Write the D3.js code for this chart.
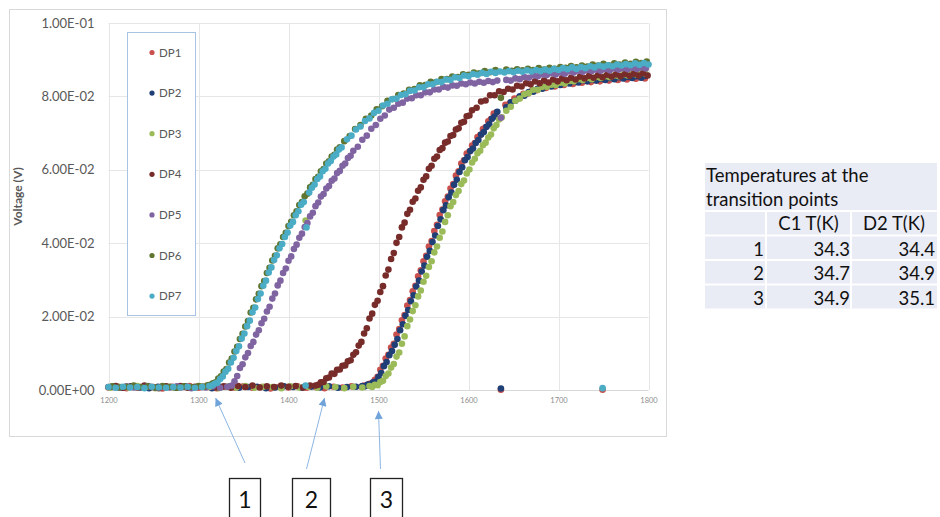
<!DOCTYPE html>
<html>
<head>
<meta charset="utf-8">
<script src="https://cdn.jsdelivr.net/npm/d3@7"></script>
<style>
  body { margin: 0; background: #fff; }
  svg { display: block; }
</style>
</head>
<body>
<script>
// ---- Sweep data: temperature index (x) vs. detector voltage in V ----
const dp1 = [
[1200,.0007],[1210,.0009],[1220,.0005],[1230,.0010],[1240,.0006],[1250,.0008],[1260,.0004],[1270,.0009],[1280,.0007],[1290,.0011],[1300,.0006],[1310,.0008],[1320,.0005],[1330,.0009],[1340,.0007],[1350,.0010],[1360,.0006],[1370,.0008],[1380,.0004],[1390,.0009],[1400,.0007],[1410,.0010],[1420,.0006],[1430,.0008],[1440,.0005],[1450,.0009],[1460,.0007],[1470,.0010],
[1481,.0009],[1484,.0012],[1487,.0012],[1490,.0017],[1493,.0019],[1496,.0028],[1499,.0036],[1502,.0055],[1505,.0066],[1508,.0086],[1511,.0096],[1514,.0116],[1517,.0126],[1520,.0151],[1523,.0166],[1526,.0190],[1529,.0204],[1532,.0230],[1535,.0245],[1538,.0269],[1541,.0284],[1544,.0310],[1547,.0326],[1550,.0351],[1553,.0366],[1556,.0391],[1559,.0406],[1562,.0433],[1565,.0450],[1568,.0477],[1571,.0492],[1574,.0514],[1577,.0527],[1580,.0549],[1583,.0561],[1586,.0584],[1589,.0596],[1592,.0617],[1595,.0626],[1598,.0644],[1601,.0650],[1604,.0666],[1607,.0673],[1610,.0689],[1613,.0695],[1616,.0711],[1619,.0716],[1622,.0732],[1625,.0738],[1628,.0753],[1631,.0756],
[1636,.0001],[1641,.0777],[1646,.0782],[1651,.0794],[1656,.0797],[1661,.0807],[1666,.0808],[1671,.0817],[1676,.0817],[1681,.0824],[1686,.0823],[1691,.0829],[1696,.0827],[1701,.0833],[1706,.0831],[1711,.0837],[1716,.0834],[1721,.0840],[1726,.0837],[1731,.0842],[1736,.0839],[1741,.0844],[1746,.0841],[1749,.0001],[1751,.0846],[1756,.0843],[1761,.0848],[1766,.0845],[1771,.0850],[1776,.0846],[1781,.0851],[1786,.0848],[1791,.0852],[1796,.0849]
];
const dp2 = [
[1205,.0008],[1215,.0006],[1225,.0010],[1235,.0007],[1245,.0005],[1255,.0009],[1265,.0008],[1275,.0006],[1285,.0010],[1295,.0007],[1305,.0009],[1315,.0005],[1325,.0008],[1335,.0010],[1345,.0006],[1355,.0008],[1365,.0009],[1375,.0005],[1385,.0007],[1395,.0010],[1405,.0008],[1415,.0006],[1425,.0009],[1435,.0007],[1445,.0010],[1455,.0006],[1465,.0008],[1475,.0009],
[1482,.0011],[1485,.0010],[1488,.0015],[1491,.0015],[1494,.0021],[1497,.0023],[1500,.0035],[1503,.0046],[1506,.0065],[1509,.0076],[1512,.0095],[1515,.0106],[1518,.0123],[1521,.0139],[1524,.0163],[1527,.0179],[1530,.0202],[1533,.0218],[1536,.0242],[1539,.0258],[1542,.0282],[1545,.0298],[1548,.0323],[1551,.0339],[1554,.0363],[1557,.0379],[1560,.0403],[1563,.0421],[1566,.0447],[1569,.0465],[1572,.0490],[1575,.0503],[1578,.0525],[1581,.0538],[1584,.0559],[1587,.0573],[1590,.0594],[1593,.0607],[1596,.0626],[1599,.0635],[1602,.0651],[1605,.0658],[1608,.0673],[1611,.0681],[1614,.0696],[1617,.0703],[1620,.0717],[1623,.0724],[1626,.0739],[1629,.0745],[1632,.0758],
[1636,.0004],[1642,.0770],[1647,.0784],[1652,.0788],[1657,.0800],[1662,.0802],[1667,.0812],[1672,.0813],[1677,.0821],[1682,.0821],[1687,.0828],[1692,.0827],[1697,.0833],[1702,.0831],[1707,.0837],[1712,.0835],[1717,.0841],[1722,.0838],[1727,.0844],[1732,.0841],[1737,.0846],[1742,.0843],[1747,.0848],[1752,.0845],[1757,.0850],[1762,.0847],[1767,.0852],[1772,.0849],[1777,.0853],[1782,.0850],[1787,.0855],[1792,.0851],[1797,.0856]
];
const dp3 = [
[1202,.0006],[1212,.0009],[1222,.0007],[1232,.0011],[1242,.0008],[1252,.0005],[1262,.0010],[1272,.0007],[1282,.0009],[1292,.0006],[1302,.0010],[1312,.0008],[1322,.0005],[1332,.0009],[1342,.0007],[1352,.0011],[1362,.0006],[1372,.0009],[1382,.0008],[1392,.0005],[1402,.0010],[1412,.0007],[1419,.0462],[1422,.0009],[1432,.0006],[1442,.0010],[1452,.0008],[1462,.0005],[1472,.0009],[1482,.0007],
[1490,.0011],[1493,.0008],[1496,.0014],[1499,.0013],[1502,.0022],[1505,.0025],[1508,.0038],[1511,.0045],[1514,.0061],[1517,.0071],[1520,.0091],[1523,.0102],[1526,.0126],[1529,.0146],[1532,.0174],[1535,.0192],[1538,.0215],[1541,.0231],[1544,.0255],[1547,.0271],[1550,.0295],[1553,.0311],[1556,.0335],[1559,.0351],[1562,.0375],[1565,.0391],[1568,.0415],[1571,.0432],[1574,.0458],[1577,.0476],[1580,.0501],[1583,.0512],[1586,.0531],[1589,.0542],[1592,.0561],[1595,.0571],[1598,.0590],[1601,.0601],[1604,.0620],[1607,.0630],[1610,.0645],[1613,.0652],[1616,.0667],[1619,.0674],[1622,.0688],[1625,.0696],[1628,.0713],[1631,.0722],[1634,.0737],[1637,.0743],
[1642,.0761],[1647,.0772],[1652,.0788],[1657,.0794],[1662,.0806],[1667,.0809],[1672,.0818],[1677,.0818],[1682,.0826],[1687,.0826],[1692,.0832],[1697,.0831],[1702,.0837],[1707,.0835],[1712,.0842],[1717,.0841],[1722,.0847],[1727,.0845],[1732,.0850],[1737,.0847],[1742,.0853],[1747,.0850],[1752,.0855],[1757,.0852],[1762,.0857],[1767,.0855],[1772,.0860],[1777,.0857],[1782,.0862],[1787,.0859],[1792,.0864],[1797,.0861]
];
const dp4 = [
[1200,.0008],[1208,.0011],[1216,.0006],[1224,.0009],[1232,.0007],[1240,.0012],[1248,.0008],[1256,.0005],[1264,.0010],[1272,.0008],[1280,.0011],[1288,.0006],[1296,.0009],[1304,.0008],[1312,.0012],[1320,.0007],[1328,.0010],[1336,.0006],[1344,.0011],[1352,.0008],[1360,.0012],[1368,.0007],[1376,.0010],[1384,.0008],[1392,.0012],[1400,.0009],[1408,.0011],[1416,.0007],[1424,.0012],
[1430,.0012],[1433,.0014],[1436,.0021],[1439,.0022],[1442,.0032],[1445,.0034],[1448,.0045],[1451,.0044],[1454,.0055],[1457,.0056],[1460,.0066],[1463,.0067],[1466,.0078],[1469,.0081],[1472,.0096],[1475,.0103],[1478,.0121],[1481,.0131],[1484,.0154],[1487,.0168],[1490,.0195],[1493,.0208],[1496,.0232],[1499,.0243],[1502,.0267],[1505,.0283],[1508,.0312],[1511,.0328],[1514,.0357],[1517,.0373],[1520,.0401],[1523,.0417],[1526,.0443],[1529,.0456],[1532,.0480],[1535,.0491],[1538,.0513],[1541,.0522],[1544,.0543],[1547,.0552],[1550,.0573],[1553,.0582],[1556,.0603],[1559,.0611],[1562,.0630],[1565,.0636],[1568,.0654],[1571,.0659],[1574,.0674],[1577,.0677],[1580,.0692],[1583,.0695],[1586,.0710],[1589,.0713],[1592,.0728],[1595,.0731],[1598,.0746],[1601,.0748],[1604,.0762],
[1609,.0769],[1614,.0786],[1619,.0789],[1624,.0803],[1629,.0803],[1634,.0814],[1639,.0812],[1644,.0821],[1649,.0819],[1654,.0829],[1659,.0827],[1664,.0836],[1669,.0833],[1674,.0841],[1679,.0836],[1684,.0843],[1689,.0838],[1694,.0846],[1699,.0841],[1704,.0849],[1709,.0844],[1714,.0851],[1719,.0846],[1724,.0854],[1729,.0849],[1734,.0856],[1739,.0851],[1744,.0858],[1749,.0852],[1754,.0859],[1759,.0854],[1764,.0860],[1769,.0855],[1774,.0861],[1779,.0856],[1784,.0862],[1789,.0857],[1794,.0863],[1799,.0857]
];
const dp5 = [
[1204,.0009],[1212,.0006],[1220,.0010],[1228,.0007],[1236,.0008],[1244,.0011],[1252,.0006],[1260,.0009],[1268,.0007],[1276,.0010],[1284,.0008],[1292,.0005],[1300,.0009],[1308,.0007],[1316,.0010],[1324,.0006],[1332,.0009],
[1337,.0012],[1340,.0024],[1343,.0038],[1346,.0060],[1349,.0070],[1352,.0089],[1355,.0101],[1358,.0120],[1361,.0131],[1364,.0151],[1367,.0163],[1370,.0182],[1373,.0194],[1376,.0214],[1379,.0227],[1382,.0249],[1385,.0263],[1388,.0285],[1391,.0298],[1394,.0319],[1397,.0331],[1400,.0352],[1403,.0364],[1406,.0384],[1409,.0396],[1412,.0415],[1415,.0426],[1418,.0444],[1421,.0455],[1424,.0473],[1427,.0483],[1430,.0501],[1433,.0511],[1436,.0527],[1439,.0534],[1442,.0549],[1445,.0556],[1448,.0570],[1451,.0576],[1454,.0591],[1457,.0597],[1460,.0611],[1463,.0617],[1466,.0632],[1469,.0638],[1472,.0652],
[1477,.0663],[1482,.0682],[1487,.0693],[1492,.0712],[1497,.0722],[1502,.0739],[1507,.0748],[1512,.0764],[1517,.0769],[1522,.0780],[1527,.0783],[1532,.0794],[1537,.0795],[1542,.0803],[1547,.0803],[1552,.0811],[1557,.0811],[1562,.0819],[1567,.0819],[1572,.0826],[1577,.0824],[1582,.0830],[1587,.0829],[1592,.0835],[1597,.0833],[1602,.0838],[1607,.0835],[1612,.0840],[1617,.0837],[1622,.0842],[1627,.0839],[1632,.0843],[1636,.0742],[1642,.0845],[1647,.0843],[1652,.0849],[1657,.0847],[1662,.0853],[1667,.0851],[1672,.0857],[1677,.0855],[1682,.0860],[1687,.0858],[1692,.0863],[1697,.0860],[1702,.0865],[1707,.0862],[1712,.0868],[1717,.0865],[1722,.0870],[1727,.0867],[1732,.0872],[1737,.0869],[1742,.0873],[1747,.0870],[1752,.0875],[1757,.0871],[1762,.0876],[1767,.0873],[1772,.0877],[1777,.0874],[1782,.0878],[1787,.0875],[1792,.0879],[1797,.0876]
];
const dp6 = [
[1204,.0010],[1212,.0007],[1220,.0009],[1228,.0012],[1236,.0008],[1244,.0010],[1252,.0007],[1260,.0011],[1268,.0009],[1276,.0006],[1284,.0010],[1292,.0008],[1300,.0011],[1306,.0009],
[1310,.0013],[1313,.0014],[1316,.0018],[1319,.0021],[1322,.0031],[1325,.0037],[1328,.0050],[1331,.0057],[1334,.0075],[1337,.0086],[1340,.0105],[1343,.0118],[1346,.0139],[1349,.0153],[1352,.0173],[1355,.0188],[1358,.0211],[1361,.0224],[1364,.0247],[1367,.0262],[1370,.0283],[1373,.0297],[1376,.0319],[1379,.0333],[1382,.0353],[1385,.0366],[1388,.0386],[1391,.0397],[1394,.0417],[1397,.0428],[1400,.0447],[1403,.0458],[1406,.0476],[1409,.0487],[1412,.0504],[1415,.0512],[1418,.0528],[1421,.0535],[1424,.0552],[1427,.0559],[1430,.0575],[1433,.0581],[1436,.0596],[1439,.0602],[1442,.0617],[1445,.0623],[1448,.0636],[1451,.0641],[1454,.0655],[1457,.0661],
[1462,.0678],[1468,.0692],[1474,.0711],[1480,.0722],[1486,.0739],[1492,.0748],[1498,.0765],[1504,.0773],[1510,.0788],[1516,.0793],[1522,.0804],[1528,.0808],[1534,.0818],[1540,.0820],[1546,.0830],[1552,.0831],[1558,.0840],[1564,.0839],[1570,.0847],[1576,.0847],[1582,.0854],[1588,.0853],[1594,.0860],[1600,.0859],[1606,.0865],[1612,.0863],[1618,.0869],[1624,.0866],[1630,.0872],[1636,.0796],[1642,.0873],[1648,.0870],[1654,.0874],[1660,.0871],[1666,.0875],[1672,.0872],[1678,.0877],[1684,.0873],[1690,.0878],[1696,.0875],[1702,.0880],[1708,.0878],[1714,.0883],[1720,.0879],[1726,.0884],[1732,.0881],[1738,.0887],[1744,.0884],[1750,.0889],[1756,.0885],[1762,.0890],[1768,.0887],[1774,.0892],[1780,.0889],[1786,.0894],[1792,.0891],[1798,.0895]
];
const dp7 = [
[1200,.0008],[1208,.0006],[1216,.0009],[1224,.0007],[1232,.0008],[1240,.0005],[1248,.0009],[1256,.0007],[1264,.0006],[1272,.0008],[1280,.0007],[1288,.0009],[1296,.0006],[1304,.0008],
[1312,.0011],[1315,.0012],[1318,.0017],[1321,.0020],[1324,.0030],[1327,.0037],[1330,.0050],[1333,.0058],[1336,.0075],[1339,.0088],[1342,.0106],[1345,.0119],[1348,.0140],[1351,.0154],[1354,.0174],[1357,.0189],[1360,.0212],[1363,.0225],[1366,.0248],[1369,.0263],[1372,.0284],[1375,.0298],[1378,.0320],[1381,.0334],[1384,.0354],[1387,.0367],[1390,.0386],[1393,.0398],[1396,.0417],[1399,.0429],[1402,.0448],[1405,.0458],[1408,.0476],[1411,.0487],[1414,.0505],[1417,.0512],[1419,.0012],[1420,.0443],[1423,.0538],[1426,.0551],[1429,.0560],[1432,.0575],[1435,.0582],[1438,.0596],[1441,.0603],[1444,.0617],[1447,.0624],[1450,.0636],[1453,.0642],[1456,.0655],[1459,.0661],
[1465,.0683],[1470,.0693],[1475,.0710],[1480,.0718],[1485,.0733],[1490,.0740],[1495,.0755],[1500,.0761],[1505,.0775],[1510,.0780],[1515,.0792],[1520,.0794],[1525,.0804],[1530,.0806],[1535,.0815],[1540,.0816],[1545,.0825],[1550,.0825],[1555,.0833],[1560,.0833],[1565,.0840],[1570,.0839],[1575,.0846],[1580,.0845],[1585,.0852],[1590,.0850],[1595,.0857],[1600,.0855],[1605,.0861],[1610,.0859],[1615,.0864],[1620,.0861],[1625,.0867],[1630,.0864],[1635,.0868],[1640,.0865],[1645,.0869],[1650,.0866],[1655,.0870],[1660,.0867],[1665,.0871],[1670,.0868],[1675,.0872],[1680,.0869],[1685,.0873],[1690,.0870],[1695,.0875],[1700,.0872],[1705,.0877],[1710,.0874],[1715,.0879],[1720,.0875],[1725,.0880],[1730,.0877],[1735,.0882],[1740,.0879],[1745,.0884],[1749,.0005],[1750,.0881],[1755,.0885],[1760,.0882],[1765,.0887],[1770,.0884],[1775,.0888],[1780,.0885],[1785,.0890],[1790,.0886],[1795,.0891],[1800,.0887]
];

const seriesNames  = ['DP1','DP2','DP3','DP4','DP5','DP6','DP7'];
const seriesColors = ['#C9504C','#1F3F76','#9BBB59','#772C2A','#8064A2','#5F7530','#4BACC6'];
const seriesData   = [dp1, dp2, dp3, dp4, dp5, dp6, dp7];

const xTicks = [1200,1300,1400,1500,1600,1700,1800];
const xTickLabels = ['1200','1300','1400','1500','1600','1700','1800'];
const yTicks = [0,0.02,0.04,0.06,0.08,0.1];
const yTickLabels = ['0.00E+00','2.00E-02','4.00E-02','6.00E-02','8.00E-02','1.00E-01'];
const yTitle = 'Voltage (V)';

// transition markers on the temperature axis
const markerLabels = ['1','2','3'];
const markerX = [1319, 1440, 1500];

// summary table
const tableTitle = ['Temperatures at the', 'transition points'];
const tableHeader = ['', 'C1 T(K)', 'D2 T(K)'];
const pointIds = ['1','2','3'];
const c1Temps = [34.3, 34.7, 34.9];
const d2Temps = [34.4, 34.9, 35.1];

// ---- drawing ----
const W = 940, H = 517;
const FONT = "Lato, 'Open Sans', sans-serif";
const svg = d3.select('body').append('svg').attr('width', W).attr('height', H);
svg.append('rect').attr('width', W).attr('height', H).attr('fill', '#fff');

// chart area frame
svg.append('rect').attr('x', 9.5).attr('y', 9.5).attr('width', 657).attr('height', 427)
  .attr('fill', '#fff').attr('stroke', '#d9d9d9');

const x = d3.scaleLinear().domain([1200, 1800]).range([108.5, 648.5]);
const y = d3.scaleLinear().domain([0, 0.1]).range([390, 23]);

// gridlines
const grid = svg.append('g').attr('stroke', '#e6e6e6').attr('stroke-width', 1);
grid.selectAll('line.gv').data(xTicks).join('line').attr('class', 'gv')
  .attr('x1', d => Math.round(x(d)) + 0.5).attr('x2', d => Math.round(x(d)) + 0.5)
  .attr('y1', y(0.1)).attr('y2', y(0));
grid.selectAll('line.gh').data(yTicks.filter(d => d > 0)).join('line').attr('class', 'gh')
  .attr('x1', x(1200)).attr('x2', x(1800))
  .attr('y1', d => Math.round(y(d)) + 0.5).attr('y2', d => Math.round(y(d)) + 0.5);
svg.append('line').attr('x1', x(1200)).attr('x2', x(1800))
  .attr('y1', Math.round(y(0)) + 0.5).attr('y2', Math.round(y(0)) + 0.5)
  .attr('stroke', '#d9d9d9');

// axes
const yAxis = svg.append('g').attr('transform', `translate(${x(1200)},0)`)
  .call(d3.axisLeft(y).tickValues(yTicks).tickSize(0).tickPadding(14)
    .tickFormat((d, i) => yTickLabels[i]));
yAxis.select('.domain').remove();
yAxis.selectAll('text').attr('fill', '#595959').style('font-family', FONT).style('font-size', '13px');

const xAxis = svg.append('g').attr('transform', `translate(0,${y(0)})`)
  .call(d3.axisBottom(x).tickValues(xTicks).tickSize(0).tickPadding(8)
    .tickFormat((d, i) => xTickLabels[i]));
xAxis.select('.domain').remove();
xAxis.selectAll('text').attr('fill', '#8c8c8c').style('font-family', FONT).style('font-size', '7.5px');

svg.append('text').attr('transform', `translate(22,${(y(0) + y(0.1)) / 2 - 10}) rotate(-90)`)
  .attr('text-anchor', 'middle').attr('fill', '#595959')
  .style('font-family', FONT).style('font-size', '12px').style('font-weight', 'bold')
  .text(yTitle);

// scatter series, drawn in legend order
const plot = svg.append('g');
seriesData.forEach((data, i) => {
  plot.append('g').selectAll('circle').data(data).join('circle')
    .attr('cx', d => x(d[0])).attr('cy', d => y(d[1])).attr('r', 3.3)
    .attr('fill', seriesColors[i]);
});

// legend
const lg = svg.append('g');
lg.append('rect').attr('x', 127.5).attr('y', 32.5).attr('width', 68).attr('height', 283)
  .attr('fill', '#fff').attr('stroke', '#a7c3e3');
const li = lg.selectAll('g.item').data(seriesNames).join('g').attr('class', 'item')
  .attr('transform', (d, i) => `translate(152,${52.5 + i * 40.6})`);
li.append('circle').attr('r', 2.6).attr('fill', (d, i) => seriesColors[i]);
li.append('text').attr('x', 7).attr('dy', '0.35em').attr('fill', '#595959')
  .style('font-family', FONT).style('font-size', '11.5px').text(d => d);

// transition markers: numbered boxes with arrows pointing at the axis
const defs = svg.append('defs');
defs.append('marker').attr('id', 'ah').attr('viewBox', '0 0 10 10')
  .attr('refX', 10).attr('refY', 5).attr('markerWidth', 9).attr('markerHeight', 8)
  .attr('markerUnits', 'userSpaceOnUse').attr('orient', 'auto')
  .append('path').attr('d', 'M0,0 L10,5 L0,10 z').attr('fill', '#6fa3da');

const boxes = [
  { x0: 229.5, w: 31, tail: [245, 463], tipY: 398 },
  { x0: 292.5, w: 38, tail: [306.5, 469], tipY: 398 },
  { x0: 370.5, w: 32, tail: [380.5, 469], tipY: 411 }
];
markerLabels.forEach((lab, i) => {
  const b = boxes[i];
  svg.append('line').attr('x1', b.tail[0]).attr('y1', b.tail[1])
    .attr('x2', x(markerX[i])).attr('y2', b.tipY)
    .attr('stroke', '#8db6e3').attr('stroke-width', 1).attr('marker-end', 'url(#ah)');
  svg.append('rect').attr('x', b.x0).attr('y', 478.5).attr('width', b.w).attr('height', 45)
    .attr('fill', '#fff').attr('stroke', '#222').attr('stroke-width', 1.3);
  svg.append('text').attr('x', b.x0 + b.w / 2).attr('y', 507.5).attr('text-anchor', 'middle')
    .attr('fill', '#111').style('font-family', FONT).style('font-size', '23px').text(lab);
});

// table
const T = { x0: 705, x1: 937, y0: 163, yH: 211, rows: [235.5, 260, 284.5], y1: 308.5, c1: 766, c2: 851 };
const tg = svg.append('g');
tg.append('rect').attr('x', T.x0).attr('y', T.y0).attr('width', T.x1 - T.x0).attr('height', T.y1 - T.y0)
  .attr('fill', '#e9ebf5');
[T.yH].concat(T.rows).forEach(yy => {
  tg.append('line').attr('x1', T.x0).attr('x2', T.x1).attr('y1', yy).attr('y2', yy)
    .attr('stroke', '#fff').attr('stroke-width', 2);
});
[T.c1, T.c2].forEach(xx => {
  tg.append('line').attr('x1', xx).attr('x2', xx).attr('y1', T.yH).attr('y2', T.y1)
    .attr('stroke', '#fff').attr('stroke-width', 2);
});
const tText = (tx, ty, s, anchor) => tg.append('text').attr('x', tx).attr('y', ty)
  .attr('text-anchor', anchor).attr('fill', '#111')
  .style('font-family', FONT).style('font-size', '18.5px').text(s);
tText(706, 181.5, tableTitle[0], 'start');
tText(706, 205.5, tableTitle[1], 'start');
tText((T.c1 + T.c2) / 2, 230, tableHeader[1], 'middle');
tText((T.c2 + T.x1) / 2, 230, tableHeader[2], 'middle');
pointIds.forEach((id, i) => {
  const by = [255.5, 280, 304.5][i];
  tText(T.c1 - 2, by, id, 'end');
  tText(T.c2 - 1, by, c1Temps[i].toFixed(1), 'end');
  tText(T.x1 - 2, by, d2Temps[i].toFixed(1), 'end');
});
</script>
</body>
</html>
